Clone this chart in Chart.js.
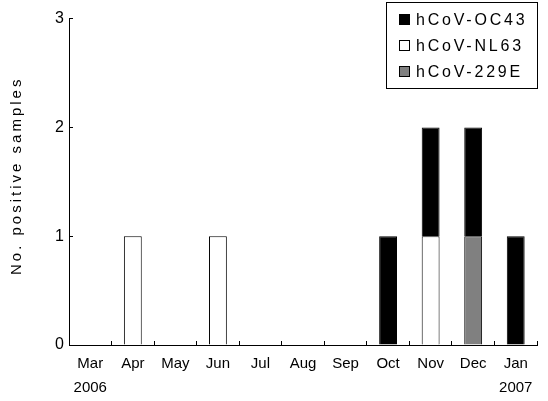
<!DOCTYPE html>
<html>
<head>
<meta charset="utf-8">
<script src="https://cdn.jsdelivr.net/npm/chart.js@4/dist/chart.umd.min.js"></script>
<style>
html,body{margin:0;padding:0;background:#fff;}
canvas{display:block;}
</style>
</head>
<body>
<canvas id="c" width="548" height="401"></canvas>
<script>
const months = ['Mar','Apr','May','Jun','Jul','Aug','Sep','Oct','Nov','Dec','Jan'];
const years  = ['2006','','','','','','','','','','2007'];
const oc43   = [0,0,0,0,0,0,0,1,1,1,1];
const nl63   = [0,1,0,1,0,0,0,0,1,0,0];
const e229   = [0,0,0,0,0,0,0,0,0,1,0];
const yTicks = [0,1,2,3];
const seriesNames = ['hCoV-OC43','hCoV-NL63','hCoV-229E'];
const seriesColors = ['#000000','#ffffff','#808080'];

const FONT = "'Liberation Sans', Arial, sans-serif";
const labels = months.map((m,i) => years[i] ? [m, years[i]] : m);

const legendPlugin = {
  id: 'boxLegend',
  afterDraw(chart) {
    const ctx = chart.ctx;
    ctx.save();
    ctx.strokeStyle = '#000';
    ctx.lineWidth = 1;
    ctx.strokeRect(386.5, 2.5, 151, 86);
    const rows = [20, 46, 72];
    ctx.font = '16px ' + FONT;
    ctx.letterSpacing = '2.8px';
    ctx.textBaseline = 'middle';
    ctx.textAlign = 'left';
    seriesNames.forEach((name, i) => {
      const y = rows[i];
      ctx.fillStyle = seriesColors[i];
      ctx.fillRect(399.5, y - 5.5, 10, 10);
      ctx.strokeRect(399.5, y - 5.5, 10, 10);
      ctx.fillStyle = '#000';
      ctx.fillText(name, 416, y + 1);
    });
    ctx.restore();
  }
};

const titleSpacingPlugin = {
  id: 'titleSpacing',
  afterUpdate(chart) {
    const s = chart.scales.y;
    if (s && !s._lsPatched) {
      const orig = s.drawTitle.bind(s);
      s.drawTitle = function() {
        const c = this.ctx;
        c.save();
        c.letterSpacing = '3px';
        c.translate(0, -6);
        orig();
        c.restore();
      };
      s._lsPatched = true;
    }
  }
};

new Chart(document.getElementById('c'), {
  type: 'bar',
  data: {
    labels: labels,
    datasets: [
      { label: seriesNames[1], data: nl63, backgroundColor: seriesColors[1], borderColor: '#000', borderWidth: 1 },
      { label: seriesNames[2], data: e229, backgroundColor: seriesColors[2], borderColor: '#000', borderWidth: 1 },
      { label: seriesNames[0], data: oc43, backgroundColor: seriesColors[0], borderColor: '#000', borderWidth: 1 }
    ]
  },
  options: {
    responsive: false,
    animation: false,
    devicePixelRatio: 1,
    layout: { padding: { top: 14, right: 11, left: 0, bottom: 0 } },
    datasets: { bar: { barPercentage: 0.42, categoryPercentage: 1 } },
    plugins: { legend: { display: false }, tooltip: { enabled: false } },
    scales: {
      x: {
        stacked: true,
        grid: { display: true, drawOnChartArea: false, drawTicks: true, tickLength: -4, offset: true, color: '#000' },
        border: { display: true, color: '#000', width: 1 },
        ticks: { color: '#000', font: { family: FONT, size: 15, lineHeight: 1.6 }, padding: 11, maxRotation: 0, autoSkip: false },
        afterFit: s => { s.height = 56; }
      },
      y: {
        stacked: true,
        min: 0,
        max: 3,
        afterBuildTicks: s => { s.ticks = yTicks.map(v => ({ value: v })); },
        grid: { display: true, drawOnChartArea: false, drawTicks: true, tickLength: -4, color: '#000' },
        border: { display: true, color: '#000', width: 1 },
        ticks: { color: '#000', font: { family: FONT, size: 16 }, padding: 9 },
        title: { display: true, text: 'No. positive samples', color: '#000', font: { family: FONT, size: 15 }, padding: { top: 8, bottom: 0 } },
        afterFit: s => { s.width = 69; }
      }
    }
  },
  plugins: [legendPlugin, titleSpacingPlugin]
});
</script>
</body>
</html>
